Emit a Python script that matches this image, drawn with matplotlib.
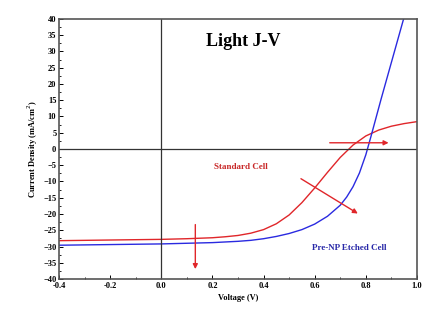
import matplotlib.pyplot as plt

# Light J-V curves of the two cells
voltage = [-0.4, -0.3, -0.2, -0.1, 0.0, 0.1, 0.2, 0.25, 0.3, 0.35, 0.4, 0.45, 0.5,
           0.55, 0.6, 0.65, 0.7, 0.75, 0.8, 0.85, 0.9, 0.95, 1.0]
standard_cell = [-28.2, -28.1, -28.0, -27.9, -27.8, -27.6, -27.3, -27.0, -26.6, -25.9,
                 -24.8, -23.0, -20.3, -16.5, -12.0, -7.2, -2.6, 1.2, 4.0, 5.8, 7.0,
                 7.8, 8.4]

voltage_np = [-0.4, -0.3, -0.2, -0.1, 0.0, 0.1, 0.2, 0.3, 0.35, 0.4, 0.45, 0.5, 0.55,
              0.6, 0.65, 0.7, 0.725, 0.75, 0.775, 0.8, 0.82, 0.84, 0.86, 0.88, 0.9,
              0.925, 0.95]
pre_np_etched = [-29.6, -29.5, -29.4, -29.3, -29.2, -29.0, -28.8, -28.4, -28.1, -27.6,
                 -26.9, -26.0, -24.8, -23.1, -20.7, -17.3, -14.8, -11.6, -7.4, -1.8,
                 3.8, 9.6, 15.4, 21.0, 26.6, 33.6, 40.6]

x_ticks = [-0.4, -0.2, 0.0, 0.2, 0.4, 0.6, 0.8, 1.0]
y_ticks = list(range(-40, 45, 5))

red = '#e0262a'
blue = '#2a2ae0'
serif = ['Liberation Serif', 'DejaVu Serif']

fig = plt.figure(figsize=(4.22, 3.2), dpi=100)
ax = fig.add_axes([0.140, 0.128, 0.848, 0.813])

ax.plot(voltage, standard_cell, color=red, linewidth=1.0)
ax.plot(voltage_np, pre_np_etched, color=blue, linewidth=1.0)

ax.axhline(0, color='#333333', linewidth=0.9)
ax.axvline(0, color='#333333', linewidth=0.9)

# trend arrows
arrow = dict(arrowstyle='-|>', color=red, linewidth=1.0, mutation_scale=7)
ax.annotate('', xy=(0.90, 1.9), xytext=(0.648, 1.9), arrowprops=arrow)
ax.annotate('', xy=(0.778, -20.3), xytext=(0.537, -8.7), arrowprops=arrow)
ax.annotate('', xy=(0.133, -37.8), xytext=(0.133, -22.4), arrowprops=arrow)

ax.text(0.32, 33, 'Light J-V', fontsize=13, fontweight='bold', family=serif,
        ha='center', va='center')
ax.text(0.31, -5.5, 'Standard Cell', fontsize=6.5, fontweight='bold', family=serif,
        color='#c82828', ha='center', va='center')
ax.text(0.735, -30.5, 'Pre-NP Etched Cell', fontsize=6.5, fontweight='bold', family=serif,
        color='#2828a8', ha='center', va='center')

ax.set_xlim(-0.4, 1.0)
ax.set_ylim(-40, 40)
ax.set_xticks(x_ticks)
ax.set_xticklabels([f'{v:.1f}' for v in x_ticks])
ax.set_yticks(y_ticks)
ax.set_xticks([v / 10 for v in range(-3, 10, 2)], minor=True)
ax.set_yticks([v + 2.5 for v in range(-40, 40, 5)], minor=True)
ax.tick_params(direction='in', length=3, width=0.7, labelsize=6, pad=2)
ax.tick_params(which='minor', direction='in', length=1.5, width=0.6)
for label in ax.get_xticklabels() + ax.get_yticklabels():
    label.set_fontfamily(serif)
    label.set_fontweight('bold')

for spine in ax.spines.values():
    spine.set_color('#555555')
    spine.set_linewidth(1.2)

ax.set_xlabel('Voltage (V)', fontsize=6, fontweight='bold', family=serif, labelpad=3)
ax.set_ylabel('Current Density (mA/cm$^2$)', fontsize=6, fontweight='bold', family=serif,
              labelpad=2)

fig.savefig('out.png', dpi=100)
